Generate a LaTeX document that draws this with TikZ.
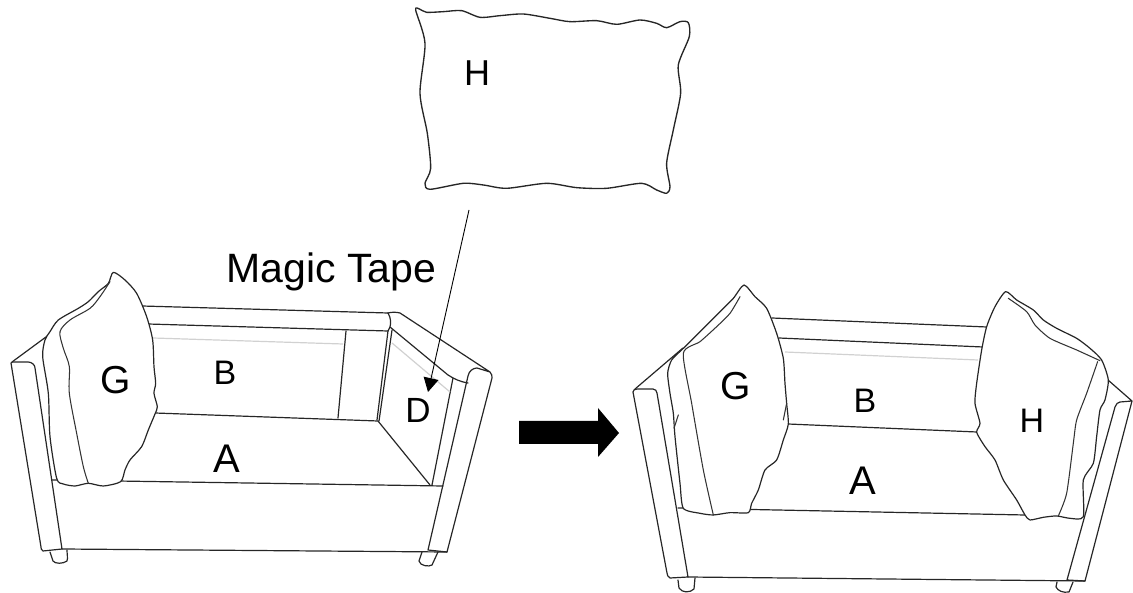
\documentclass[tikz,border=0pt]{standalone}
\usepackage{fontspec}
\setmainfont{Liberation Sans}
\usetikzlibrary{arrows.meta}
\tikzset{
  sofa/.style={draw=black!85,line width=1.2pt,line join=round,line cap=round},
  soft/.style={sofa,fill=white},
  fine/.style={draw=black!80,line width=1.05pt,line join=round,line cap=round},
  faint/.style={draw=black!18,line width=1.2pt},
  tag/.style={inner sep=0pt,anchor=base,text=black},
  pointer/.style={draw=black,line width=0.9pt,-{Triangle[length=14pt,width=15pt]}},
  bigarrow/.style={fill=black,draw=none}
}
\newcommand{\lab}[4]{\node[tag,font=\fontsize{#3}{#3}\selectfont] (#4) at (#1) {#2};}
\begin{document}
\begin{tikzpicture}[x=1pt,y=-1pt]
\useasboundingbox (0,0) rectangle (1133,593);
% ---------- loose pillow H
\draw[sofa,line width=1.35pt,xshift=400pt,x=0.3333pt,y=-0.3333pt] plot[smooth cycle,tension=0.45] coordinates{(47,30)(60,28)(80,37)(130,35)(185,32)(240,52)(300,47)(370,42)(450,55)(510,65)(590,62)(650,73)(720,60)(770,70)(800,83)(840,65)(865,68)(868,110)(835,195)(842,280)(820,390)(800,490)(810,560)(800,580)(770,570)(725,550)(620,565)(530,563)(440,550)(320,565)(250,555)(190,550)(90,568)(75,550)(92,505)(82,400)(60,280)(75,130)};
% ---------- left sofa
\draw[sofa] (11,363) .. controls (11,362) and (13,362) .. (15,362) -- (28,362) .. controls (32,362) and (35,365) .. (35,368) -- (62,549) -- (43,551) .. controls (41,550) and (41,548) .. (41,547) -- cycle;
\draw[sofa] (12,362) -- (50,334);
\draw[sofa] (50,552) -- (53,561) .. controls (55,564) and (63,564) .. (67,561) .. controls (68,558) and (67,554) .. (67,550);
\draw[sofa] (62,549) -- (447,552);
\draw[sofa] (52,480) -- (443,486);
\draw[sofa] (142,306) -- (388,313);
\draw[sofa] (148,324) -- (388,331);
\draw[faint] (153,338) -- (343,344);
\draw[sofa] (155,413) -- (378,421);
\draw[sofa] (346,331) -- (338,418);
\draw[sofa] (388,313) .. controls (392,312) and (396,312) .. (400,313) -- (490,372) .. controls (492,374) and (492,376) .. (492,378) -- (447,552) -- (428,550) -- (468,376) .. controls (469,371) and (473,368) .. (477,368) -- (490,372);
\draw[sofa] (388,313) .. controls (391,318) and (391,323) .. (390,327) -- (388,331) -- (377,420);
\draw[sofa] (392,330) -- (379,421);
\draw[sofa] (390,327) -- (448,375) .. controls (454,379) and (461,382) .. (468,383);
\draw[sofa] (453,378) -- (432,485);
\draw[sofa] (378,421) -- (430,485);
\draw[faint] (392,343) -- (450,392);
\draw[sofa] (422,552) -- (419,561) .. controls (420,566) and (429,567) .. (432,565) -- (438,552);
\draw[soft,xshift=0pt,x=0.3333pt,y=-0.3333pt,yshift=-260pt] plot[smooth cycle,tension=0.45] coordinates{(340,37)(375,60)(410,100)(440,170)(458,240)(462,320)(467,370)(462,400)(472,440)(465,462)(445,510)(425,560)(390,600)(375,630)(362,665)(310,678)(265,670)(225,678)(190,672)(170,655)(150,530)(145,400)(128,290)(135,240)(150,215)(175,180)(235,145)(265,125)(295,95)(325,70)};
\draw[fine,x=0.3333pt,y=-0.3333pt,yshift=-260pt] plot[smooth,tension=0.5] coordinates{(330,65)(300,110)(270,145)(210,180)(180,215)(190,265)(208,320)(208,400)(230,520)(250,620)(265,670)};
% ---------- right sofa
\draw[sofa] (633,392) .. controls (633,390) and (635,389) .. (637,389) -- (653,389) .. controls (655,389) and (657,391) .. (657,393) -- (688,577) -- (670,578) .. controls (668,577) and (667,575) .. (667,573) -- cycle;
\draw[sofa] (635,389) -- (683,348);
\draw[sofa] (678,580) -- (679,588) .. controls (682,593) and (690,593) .. (694,589) -- (695,578);
\draw[sofa] (688,577) -- (1085,581);
\draw[sofa] (678,508) -- (1025,515);
\draw[sofa] (772,318) -- (987,327);
\draw[sofa] (779,338) -- (983,347);
\draw[faint] (785,352) -- (978,360);
\draw[sofa] (788,424) -- (977,432);
\draw[sofa] (1108,380) -- (1132,401) -- (1085,581) -- (1067,580) -- (1115,407) .. controls (1116,404) and (1118,402) .. (1120,402) -- (1132,401);
\draw[sofa] (1057,582) -- (1056,587) .. controls (1058,591) and (1063,593) .. (1069,592) -- (1073,582);
% right sofa, pillow G
\draw[soft,xshift=620pt,x=0.3333pt,y=-0.3333pt,yshift=-270pt] plot[smooth cycle,tension=0.4] coordinates{(372,45)(405,80)(440,115)(470,190)(490,265)(495,340)(500,400)(505,462)(490,510)(470,570)(435,600)(415,660)(395,700)(385,728)(330,728)(280,735)(240,730)(190,715)(180,640)(165,500)(160,430)(150,370)(143,310)(155,270)(190,235)(240,185)(300,125)(340,85)};
\draw[fine,xshift=620pt,x=0.3333pt,y=-0.3333pt,yshift=-270pt] plot[smooth,tension=0.4] coordinates{(360,80)(330,130)(290,170)(240,215)(190,250)(215,400)(250,600)(280,735)};
\draw[fine,xshift=620pt,x=0.3333pt,y=-0.3333pt,yshift=-270pt] (175,435) -- (162,475);
\draw[fine,xshift=620pt,x=0.3333pt,y=-0.3333pt,yshift=-270pt] (500,400) -- (490,450);
% right sofa, pillow H
\draw[soft,xshift=870pt,x=0.3333pt,y=-0.3333pt,yshift=-270pt] plot[smooth cycle,tension=0.4] coordinates{(407,65)(440,90)(490,120)(520,150)(560,175)(620,205)(660,235)(695,270)(715,330)(705,390)(690,420)(680,500)(670,580)(640,630)(640,740)(600,745)(560,738)(520,742)(480,750)(465,735)(440,690)(400,630)(375,570)(345,530)(320,487)(330,460)(315,400)(320,340)(335,240)(350,170)(375,110)};
\draw[fine,xshift=870pt,x=0.3333pt,y=-0.3333pt,yshift=-270pt] plot[smooth,tension=0.4] coordinates{(415,85)(470,125)(495,165)(540,205)(620,240)(690,272)};
\draw[fine,xshift=870pt,x=0.3333pt,y=-0.3333pt,yshift=-270pt] plot[smooth,tension=0.4] coordinates{(683,275)(650,370)(620,450)(610,520)(590,670)(565,738)};
% ---------- big arrow
\fill[bigarrow] (519,421) -- (598,421) -- (598,408) -- (619,433) -- (598,457) -- (598,444) -- (519,444) -- cycle;
% ---------- labels
\lab{477,86}{H}{36}{labHtop}
\lab{331.5,283}{Magic Tape}{41}{labTape}
\lab{116,394}{G}{39}{labGl}
\lab{225,385}{B}{34}{labBl}
\lab{227,472}{A}{40}{labAl}
\lab{418,423}{D}{35}{labD}
\lab{736,400}{G}{39}{labGr}
\lab{865,413}{B}{34}{labBr}
\lab{863,494}{A}{40}{labAr}
\lab{1032,433}{H}{34}{labHr}
% ---------- pointer
\coordinate (tapeStart) at (469,210);
\coordinate (tapeEnd) at (428,392);
\draw[pointer] (tapeStart) -- (tapeEnd);
\end{tikzpicture}
\end{document}
